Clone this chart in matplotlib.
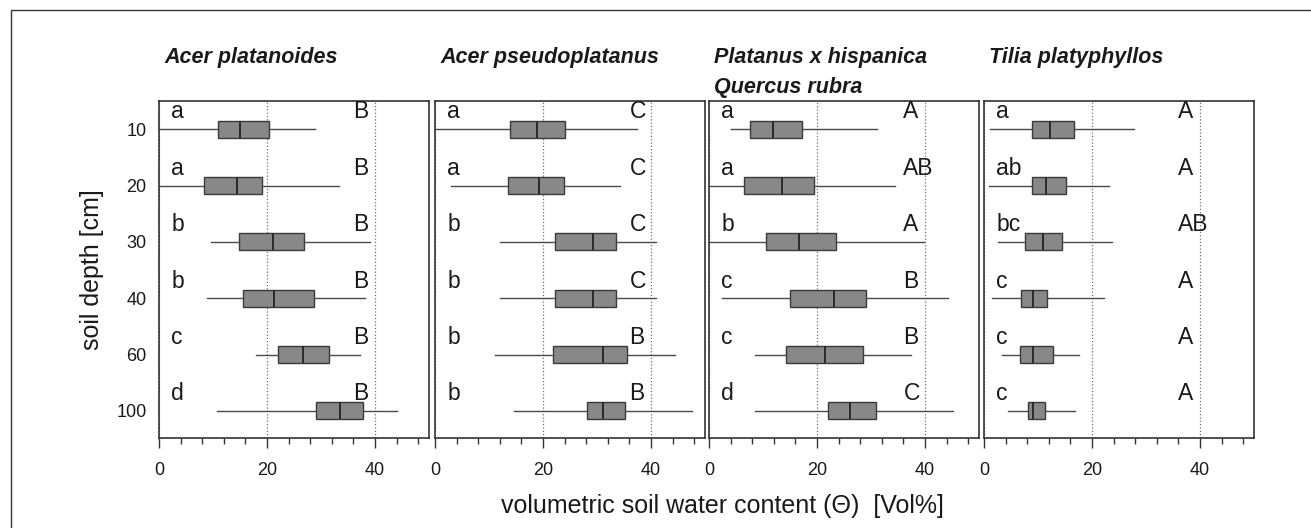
import matplotlib
matplotlib.use("Agg")
import matplotlib.pyplot as plt
from matplotlib.patches import Rectangle
from matplotlib.ticker import MultipleLocator

plt.rcParams['font.family'] = ['Liberation Sans', 'DejaVu Sans']

# depth classes (rows) and panels
depths = ['10', '20', '30', '40', '60', '100']
species = ['Acer platanoides', 'Acer pseudoplatanus',
           'Platanus x hispanica', 'Tilia platyphyllos']
extra_title = 'Quercus rubra'   # second line over the third panel

# box stats per depth: (whisker low, q1, median, q3, whisker high)
acer_plat = [(0.0, 10.9, 15.0, 20.3, 28.9),
             (0.0, 8.3, 14.5, 19.0, 33.3),
             (9.7, 14.9, 21.2, 26.9, 39.0),
             (8.8, 15.5, 21.3, 28.7, 38.1),
             (18.0, 22.1, 26.7, 31.5, 37.3),
             (10.7, 29.0, 33.6, 37.7, 44.0)]
acer_pseudo = [(0.0, 13.8, 18.8, 24.1, 37.4),
               (2.9, 13.6, 19.2, 23.9, 34.2),
               (12.1, 22.3, 29.3, 33.5, 40.9),
               (12.1, 22.3, 29.3, 33.5, 40.9),
               (11.1, 21.9, 31.1, 35.6, 44.5),
               (14.6, 28.1, 31.1, 35.2, 47.6)]
platanus = [(4.0, 7.5, 11.9, 17.3, 31.2),
            (0.0, 6.5, 13.5, 19.4, 34.5),
            (0.0, 10.6, 16.7, 23.6, 39.9),
            (2.4, 15.0, 23.1, 29.1, 44.2),
            (8.5, 14.2, 21.5, 28.6, 37.4),
            (8.6, 22.0, 26.1, 30.9, 45.1)]
tilia = [(1.2, 8.8, 12.3, 16.6, 27.7),
         (0.9, 8.8, 11.4, 15.1, 23.1),
         (2.6, 7.6, 10.9, 14.5, 23.7),
         (1.4, 6.8, 9.0, 11.6, 22.2),
         (3.3, 6.6, 9.0, 12.7, 17.6),
         (4.4, 8.1, 9.1, 11.3, 16.8)]
panel_data = [acer_plat, acer_pseudo, platanus, tilia]

# significance letters: left = between depths, right = between species
left_letters = [['a', 'a', 'b', 'b', 'c', 'd'],
                ['a', 'a', 'b', 'b', 'b', 'b'],
                ['a', 'a', 'b', 'c', 'c', 'd'],
                ['a', 'ab', 'bc', 'c', 'c', 'c']]
right_letters = [['B', 'B', 'B', 'B', 'B', 'B'],
                 ['C', 'C', 'C', 'C', 'B', 'B'],
                 ['A', 'AB', 'A', 'B', 'B', 'C'],
                 ['A', 'A', 'AB', 'A', 'A', 'A']]

W, H = 1311, 528
fig = plt.figure(figsize=(W / 100, H / 100), dpi=100)

lefts = [159, 435, 709, 984]
ax_w = 270
ax_top, ax_bot = 101, 438
text_col = '#1a1a1a'

for i, stats_rows in enumerate(panel_data):
    ax = fig.add_axes([lefts[i] / W, 1 - ax_bot / H, ax_w / W, (ax_bot - ax_top) / H])
    stats = []
    for lo, q1, med, q3, hi in stats_rows:
        stats.append(dict(whislo=lo, q1=q1, med=med, q3=q3, whishi=hi, fliers=[]))
    pos = list(range(len(depths)))
    ax.bxp(stats, positions=pos, orientation='horizontal', widths=0.3,
           showcaps=False, showfliers=False, patch_artist=True,
           boxprops=dict(facecolor='#888888', edgecolor='#3a3a3a', linewidth=1.0),
           medianprops=dict(color='#2a2a2a', linewidth=1.4),
           whiskerprops=dict(color='#4a4a4a', linewidth=1.0))
    ax.set_xlim(0, 50)
    ax.set_ylim(5.48, -0.5)
    ax.xaxis.set_major_locator(MultipleLocator(20))
    ax.xaxis.set_minor_locator(MultipleLocator(4))
    ax.xaxis.grid(True, which='major', linestyle=':', color='#707070', linewidth=0.9)
    ax.set_axisbelow(True)
    ax.tick_params(axis='x', which='major', length=7, width=1, pad=10,
                   labelsize=13, colors='#333333', labelcolor=text_col)
    ax.tick_params(axis='x', which='minor', length=4.5, width=1, colors='#333333')
    ax.set_yticks(pos)
    if i == 0:
        ax.set_yticklabels(depths)
        ax.tick_params(axis='y', length=0, pad=9, labelsize=13, labelcolor=text_col)
    else:
        ax.set_yticklabels([])
        ax.tick_params(axis='y', length=0)
    for sp in ax.spines.values():
        sp.set_color('#333333')
        sp.set_linewidth(1.2)

    for r in pos:
        ax.text(2.3, r - 0.19, left_letters[i][r], fontsize=16.5, color=text_col,
                ha='left', va='baseline')
        ax.text(36, r - 0.19, right_letters[i][r], fontsize=16.5, color=text_col,
                ha='left', va='baseline')

    ax.text(0.02, 1.113, species[i], transform=ax.transAxes, fontsize=15.5,
            fontweight='bold', fontstyle='italic', color=text_col,
            ha='left', va='baseline')
    if i == 2:
        ax.text(0.02, 1.024, extra_title, transform=ax.transAxes, fontsize=15.5,
                fontweight='bold', fontstyle='italic', color=text_col,
                ha='left', va='baseline')

fig.text(92 / W, 1 - 270 / H, 'soil depth [cm]', rotation=90, fontsize=18,
         color=text_col, ha='center', va='center')
fig.text(722 / W, 1 - 506 / H, 'volumetric soil water content (\u0398)  [Vol%]',
         fontsize=18, color=text_col, ha='center', va='center')

# outer frame (right and bottom edges run off the picture)
fig.add_artist(Rectangle((10.5 / W, -0.05), 1.1, 1.05 - 10.5 / H,
                         transform=fig.transFigure, fill=False,
                         edgecolor='#333333', linewidth=1.0))

fig.savefig('out.png', dpi=100)
